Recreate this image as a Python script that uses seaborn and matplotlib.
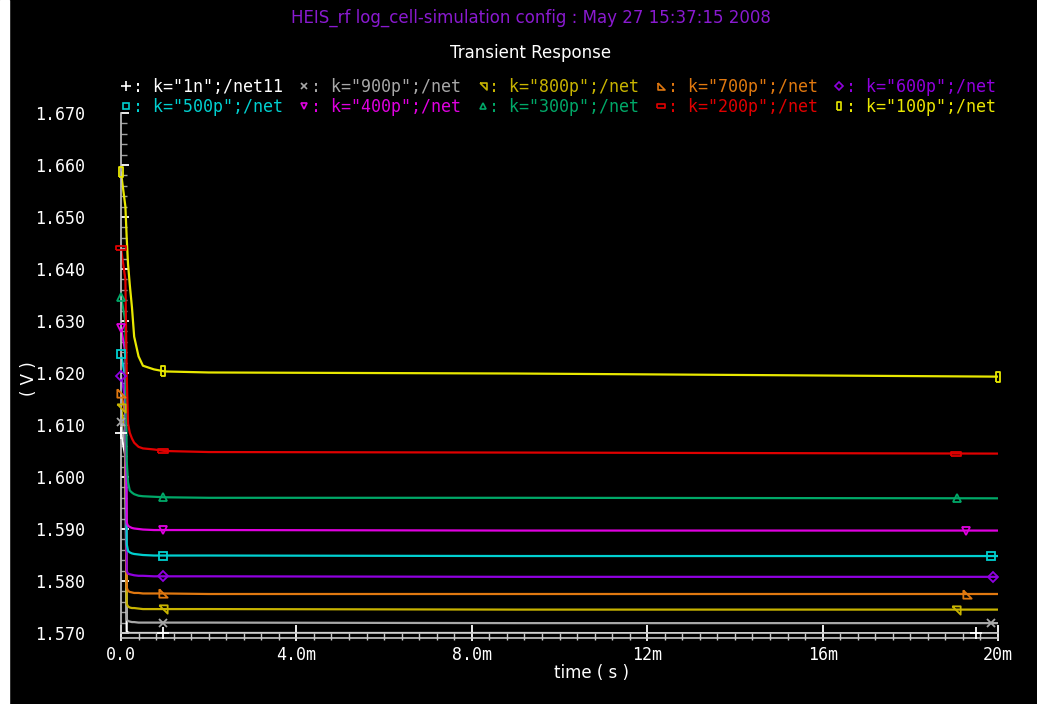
import numpy as np
import pandas as pd
import matplotlib
matplotlib.use("Agg")
import matplotlib.pyplot as plt
import matplotlib.transforms as mtransforms
from matplotlib.lines import Line2D
from matplotlib.patches import Rectangle
import seaborn as sns

# time axis in ms
time_ms = [0.0, 0.1, 0.13, 0.16, 0.2, 0.25, 0.3, 0.4, 0.5, 0.75, 1.0, 2.0, 9.0, 20.0]

# series (V)
v_1n   = [1.6085, 1.6040, 1.5703, 1.5701, 1.5700, 1.5700, 1.5700, 1.5700, 1.5700, 1.5700, 1.5700, 1.5700, 1.5700, 1.5699]
v_900p = [1.6105, 1.6060, 1.5726, 1.5723, 1.5722, 1.5721, 1.5721, 1.5720, 1.5720, 1.5720, 1.5720, 1.5720, 1.5719, 1.5719]
v_800p = [1.6132, 1.6090, 1.5756, 1.5751, 1.5749, 1.5748, 1.5748, 1.5747, 1.5746, 1.5746, 1.5746, 1.5746, 1.5745, 1.5745]
v_700p = [1.6162, 1.6120, 1.5787, 1.5781, 1.5779, 1.5778, 1.5777, 1.5777, 1.5776, 1.5776, 1.5776, 1.5775, 1.5775, 1.5775]
v_600p = [1.6195, 1.6150, 1.5819, 1.5814, 1.5813, 1.5812, 1.5811, 1.5810, 1.5810, 1.5809, 1.5809, 1.5809, 1.5808, 1.5808]
v_500p = [1.6236, 1.6190, 1.5871, 1.5858, 1.5855, 1.5853, 1.5852, 1.5851, 1.5850, 1.5849, 1.5849, 1.5849, 1.5848, 1.5848]
v_400p = [1.6286, 1.6240, 1.5912, 1.5906, 1.5904, 1.5902, 1.5901, 1.5900, 1.5899, 1.5898, 1.5898, 1.5898, 1.5897, 1.5897]
v_300p = [1.6347, 1.6300, 1.6031, 1.5990, 1.5974, 1.5970, 1.5967, 1.5964, 1.5963, 1.5962, 1.5961, 1.5960, 1.5960, 1.5959]
v_200p = [1.6440, 1.6380, 1.6195, 1.6103, 1.6085, 1.6074, 1.6066, 1.6058, 1.6055, 1.6053, 1.6050, 1.6048, 1.6047, 1.6045]
v_100p = [1.6586, 1.6520, 1.6460, 1.6410, 1.6370, 1.6326, 1.6270, 1.6232, 1.6214, 1.6207, 1.6203, 1.6201, 1.6199, 1.6193]

labels = ['k="1n";/net11', 'k="900p";/net', 'k="800p";/net', 'k="700p";/net', 'k="600p";/net',
          'k="500p";/net', 'k="400p";/net', 'k="300p";/net', 'k="200p";/net', 'k="100p";/net']
series = [v_1n, v_900p, v_800p, v_700p, v_600p, v_500p, v_400p, v_300p, v_200p, v_100p]
colors = ['#ffffff', '#a8a8a8', '#c8b400', '#e07810', '#9000e0',
          '#00d0d0', '#e000e0', '#00a868', '#e00000', '#e8e800']

# marker times (ms): start, ~1m, near end
end_marks = [19.5, 19.84, 19.04, 19.3, 19.88, 19.84, 19.27, 19.06, 19.04, 20.0]
mid_mark = 0.95

markers = ['+', 'x',
           [(-1, 1), (1, 1), (1, -1), (-1, 1)],
           [(-1, 1), (-1, -1), (1, -1), (-1, 1)],
           'D', 's', 'v', '^',
           [(-1, -0.5), (1, -0.5), (1, 0.5), (-1, 0.5), (-1, -0.5)],
           [(-0.5, -1), (0.5, -1), (0.5, 1), (-0.5, 1), (-0.5, -1)]]
msizes = [8, 6, 6, 6, 5, 6, 6, 6, 7, 7]

df = pd.DataFrame({
    "time": np.tile(time_ms, len(labels)),
    "v": np.concatenate(series),
    "net": np.repeat(labels, len(time_ms)),
})

sns.set_style("dark")
plt.rcParams['font.family'] = ['DejaVu Sans Mono', 'DejaVu Sans']

fig = plt.figure(figsize=(10.37, 7.04), dpi=100, facecolor="black")
fig.patches.append(Rectangle((0, 0), 9 / 1037, 1, transform=fig.transFigure,
                             color="white", zorder=0))
ax = fig.add_axes([121 / 1037, 1 - 633 / 704, (998 - 121) / 1037, (633 - 113) / 704])
ax.set_facecolor("black")

sns.lineplot(data=df, x="time", y="v", hue="net", palette=dict(zip(labels, colors)),
             hue_order=labels, linewidth=1.6, legend=False, ax=ax, zorder=2)

for vals, col, mk, ms, te in zip(series, colors, markers, msizes, end_marks):
    mt = [0.0, mid_mark, te]
    mv = np.interp(mt, time_ms, vals)
    ax.plot(mt, mv, linestyle="none", marker=mk, markersize=ms, markerfacecolor="none",
            markeredgecolor=col, markeredgewidth=1.3, clip_on=False, zorder=3)

ax.set_xlim(0, 20)
ax.set_ylim(1.570, 1.670)
ax.grid(False)
for s in ["top", "right"]:
    ax.spines[s].set_visible(False)
for s in ["left", "bottom"]:
    ax.spines[s].set_color("#c8c8c8")
    ax.spines[s].set_linewidth(1.2)

# second rail under the x axis
trans = mtransforms.offset_copy(ax.transAxes, fig=fig, y=-5, units="dots")
ax.plot([0, 1], [0, 0], color="#c8c8c8", lw=1.2, transform=trans, clip_on=False)

ax.set_xticks([0, 4, 8, 12, 16, 20])
ax.set_xticklabels(["0.0", "4.0m", "8.0m", "12m", "16m", "20m"])
ax.set_xticks(np.arange(0, 20.01, 0.4), minor=True)
ax.set_yticks(np.arange(1.570, 1.6701, 0.01))
ax.set_yticklabels([f"{v:.3f}" for v in np.arange(1.570, 1.6701, 0.01)])
ax.set_yticks(np.arange(1.570, 1.6701, 0.002), minor=True)

ax.tick_params(axis="x", which="major", direction="inout", length=12, width=1.3,
               color="white", labelcolor="white", labelsize=12, pad=3)
ax.tick_params(axis="x", which="minor", direction="out", length=5, width=1,
               color="#c8c8c8")
ax.tick_params(axis="y", which="major", direction="in", length=6, width=1.3,
               color="white", labelcolor="white", labelsize=12, pad=26)
ax.tick_params(axis="y", which="minor", direction="in", length=4, width=1,
               color="#a0a0a0")
ax.tick_params(bottom=True, left=True, which="both")

ax.set_xlabel("time ( s )", color="white", fontsize=12, family="DejaVu Sans")
ax.set_ylabel("( V )", color="white", fontsize=12, family="DejaVu Sans")
ax.xaxis.set_label_coords(0.5 + 0.037, -0.06)
ax.yaxis.set_label_coords(-0.095, 0.49)

fig.text(531 / 1037, 1 - 18 / 704, "HEIS_rf log_cell-simulation config : May 27 15:37:15 2008",
         color="#8a1ad0", fontsize=12, family="DejaVu Sans", ha="center", va="center")
fig.text(531 / 1037, 1 - 53 / 704, "Transient Response",
         color="white", fontsize=12, family="DejaVu Sans", ha="center", va="center")

# legend: 2 rows x 5 columns, matplotlib fills column-wise
order = [0, 5, 1, 6, 2, 7, 3, 8, 4, 9]
handles = [Line2D([], [], linestyle="none", marker=markers[i], markersize=msizes[i] - 1,
                  markerfacecolor="none", markeredgecolor=colors[i], markeredgewidth=1.2)
           for i in order]
leg = fig.legend(handles, [": " + labels[i] for i in order], ncol=5,
                 loc="upper left", bbox_to_anchor=(121 / 1037, 1 - 78 / 704),
                 frameon=False, fontsize=12, handlelength=0.6, handletextpad=0.1,
                 columnspacing=1.0, labelspacing=0.1, borderaxespad=0, borderpad=0)
for txt, i in zip(leg.get_texts(), order):
    txt.set_color(colors[i])

fig.savefig("out.png", dpi=100, facecolor=fig.get_facecolor())
